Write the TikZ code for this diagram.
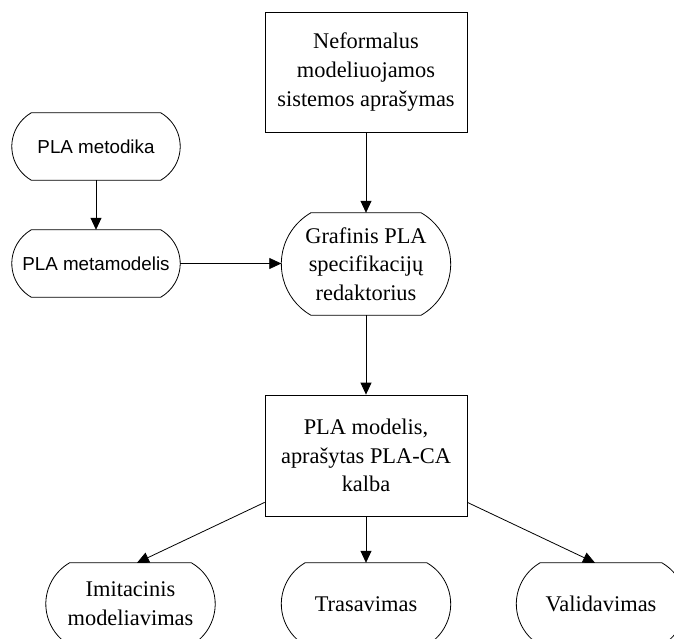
\documentclass[tikz,border=0pt]{standalone}
\usepackage{fontspec}
\setmainfont{Liberation Serif}
\newfontfamily\arialfont{Liberation Sans}
\usetikzlibrary{arrows.meta,calc}
\tikzset{
  outline/.style={line width=0.8pt},
  box/.style={rectangle, draw, outline, align=center, inner sep=0pt,
    font=\fontsize{22.4}{28.7}\selectfont},
  pill/.style={rectangle, align=center, inner sep=0pt,
    font=\fontsize{22.4}{28.7}\selectfont},
  sanspill/.style={pill, font=\arialfont\fontsize{18.8}{23}\selectfont},
  conn/.style={outline, -{Triangle[length=12pt,width=11pt]}},
}
% terminator outline around node #1: straight top and bottom, each end a
% circular arc of 120 degrees spanning the full node height
\newcommand{\pilloutline}[1]{%
  \draw[outline] let \p1=(#1.north west), \p2=(#1.south east),
      \n1={(\y1-\y2)/2/sin(60)}, \n2={\n1/2} in
    (\x1+\n2*1pt,\y1) -- (\x2-\n2*1pt,\y1)
    arc[start angle=60,end angle=-60,radius=\n1*1pt]
    -- (\x1+\n2*1pt,\y2)
    arc[start angle=240,end angle=120,radius=\n1*1pt] -- cycle;}
\begin{document}
\begin{tikzpicture}[x=1pt,y=-1pt]
  \useasboundingbox (0,0) rectangle (674,639);
  \clip (0,0) rectangle (674,639);

  \node[box, minimum width=202pt, minimum height=120pt] (desc) at (366,72)
    {Neformalus\\modeliuojamos\\sistemos aprašymas};
  \node[sanspill, minimum width=168pt, minimum height=67pt] (method) at (96,146.5)
    {PLA metodika};
  \node[sanspill, minimum width=168pt, minimum height=67pt] (meta) at (96,263.5)
    {PLA metamodelis};
  \node[pill, minimum width=169pt, minimum height=102pt] (editor) at (366,264)
    {Grafinis PLA\\specifikacijų\\redaktorius};
  \node[box, minimum width=202pt, minimum height=121pt] (model) at (366,455.5)
    {PLA modelis,\\aprašytas PLA-CA\\kalba};
  \node[pill, minimum width=169pt, minimum height=82pt] (imit) at (130.5,604)
    {Imitacinis\\modeliavimas};
  \node[pill, minimum width=169pt, minimum height=82pt] (trace) at (366,604)
    {Trasavimas};
  \node[pill, minimum width=169pt, minimum height=82pt] (valid) at (601,604)
    {Validavimas};

  \pilloutline{method}
  \pilloutline{meta}
  \pilloutline{editor}
  \pilloutline{imit}
  \pilloutline{trace}
  \pilloutline{valid}

  \draw[conn] (desc.south) -- (editor.north);
  \draw[conn] (method.south) -- (meta.north);
  \draw[conn] (meta.east) -- (meta.east -| editor.west);
  \draw[conn] (editor.south) -- (model.north);
  \draw[conn] ([yshift=14pt]model.south west) -- ([xshift=6.5pt]imit.north);
  \draw[conn] (model.south) -- (trace.north);
  \draw[conn] ([yshift=14pt]model.south east) -- ([xshift=-6pt]valid.north);
\end{tikzpicture}
\end{document}
